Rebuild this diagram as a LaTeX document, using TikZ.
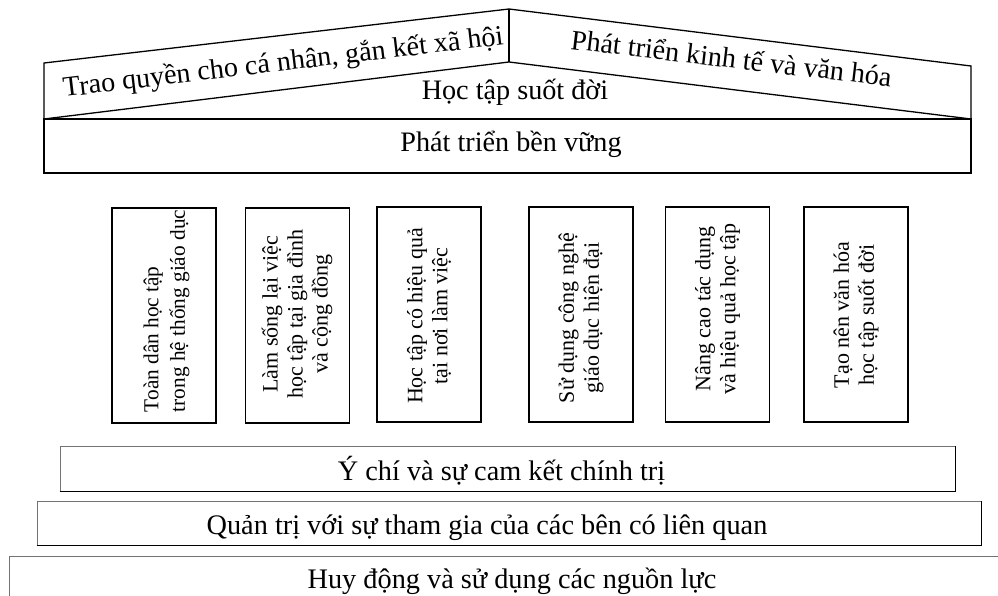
\documentclass[tikz,border=0pt]{standalone}
\usepackage{fontspec}
\setmainfont{Liberation Serif}
\begin{document}
\begin{tikzpicture}[x=1pt,y=-1pt,
  roofline/.style={draw=black, line width=1.3pt, line join=miter},
  pillar/.style={draw=black, line width=1.2pt, minimum width=104pt, minimum height=215pt, inner sep=0pt},
  band/.style={draw=black!55, line width=1pt, inner sep=0pt},
  bandshade/.style={draw=black, line width=1.7pt},
  toptext/.style={font=\fontsize{28.2}{31}\selectfont, inner sep=0pt},
  bandtext/.style={font=\fontsize{28.3}{31}\selectfont, inner sep=0pt},
  vtext/.style={font=\fontsize{22}{25}\selectfont, rotate=90, align=center, inner sep=0pt},
  vtextl/.style={font=\fontsize{21.3}{26.5}\selectfont, rotate=90, align=left, inner sep=0pt}
]
\useasboundingbox (0,0) rectangle (998,596);
\clip (0,0) rectangle (998,596);
\fill[white] (0,0) rectangle (998,596);

% roof
\coordinate (rl) at (44,119);
\coordinate (tl) at (44,63);
\coordinate (apex) at (509,9);
\coordinate (tr) at (971,66);
\coordinate (rr) at (971,119);
\coordinate (ain) at (509,62);
\draw[roofline] (rl) -- (tl) -- (apex) -- (tr) -- (rr);
\draw[roofline] (rl) -- (ain) -- (rr);
\draw[roofline] (apex) -- (ain);

\node[toptext, anchor=base west, rotate=6.8] (trao) at (64,97) {Trao quyền cho cá nhân, gắn kết xã hội};
\node[toptext, anchor=base west, rotate=-6.7] (ptkt) at (570,49) {Phát triển kinh tế và văn hóa};
\node[toptext, anchor=base] (htsd) at (515,100) {Học tập suốt đời};

% sustainable development box
\node[draw=black, line width=1.3pt, minimum width=927pt, minimum height=54pt, inner sep=0pt] (ptbvbox) at (507.5,146) {};
\node[toptext, anchor=base] (ptbv) at (511,152) {Phát triển bền vững};

% pillars
\node[pillar] (p1) at (164,315.5) {};
\node[pillar] (p2) at (297.5,315.5) {};
\node[pillar] (p3) at (429,314.5) {};
\node[pillar] (p4) at (581,314.5) {};
\node[pillar] (p5) at (717.5,314.5) {};
\node[pillar] (p6) at (856,314.5) {};

\node[vtextl] (t1) at (166.5,311) {Toàn dân học tập\\trong hệ thống giáo dục};
\node[vtext] (t2) at (297,314) {Làm sống lại việc\\học tập tại gia đình\\và cộng đồng};
\node[vtext] (t3) at (429,316) {Học tập có hiệu quả\\tại nơi làm việc};
\node[vtext] (t4) at (581,318) {Sử dụng công nghệ\\giáo dục hiện đại};
\node[vtext] (t5) at (717.5,309) {Nâng cao tác dụng\\và hiệu quả học tập};
\node[vtext] (t6) at (856,315) {Tạo nên văn hóa\\học tập suốt đời};

% foundation bands
\node[band, minimum width=895pt, minimum height=45pt] (b1) at (507.5,468.5) {};
\draw[bandshade] (b1.south west) -- (b1.south east) -- (b1.north east);
\node[bandtext, anchor=base] (b1t) at (501.5,480) {Ý chí và sự cam kết chính trị};

\node[band, minimum width=944pt, minimum height=44pt] (b2) at (509,523) {};
\draw[bandshade] (b2.south west) -- (b2.south east) -- (b2.north east);
\node[bandtext, anchor=base] (b2t) at (487,534) {Quản trị với sự tham gia của các bên có liên quan};

\node[band, minimum width=1010pt, minimum height=60pt] (b3) at (514,586) {};
\node[bandtext, anchor=base] (b3t) at (512,588) {Huy động và sử dụng các nguồn lực};
\end{tikzpicture}
\end{document}
